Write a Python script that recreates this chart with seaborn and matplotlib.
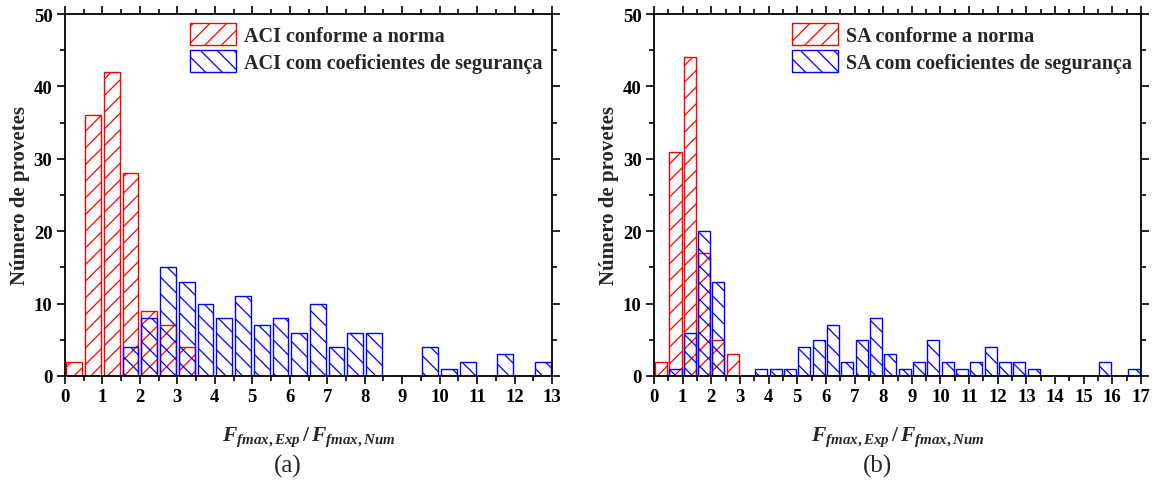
import numpy as np
import pandas as pd
import matplotlib
matplotlib.use("Agg")
import matplotlib.pyplot as plt
from matplotlib.patches import Patch
import seaborn as sns
from matplotlib.ticker import MultipleLocator

# ---------------- data (bin width 0.5, bins start at 0) ----------------
bin_width = 0.5
# panel (a) ACI
aci_norma_bins = [0.0, 0.5, 1.0, 1.5, 2.0, 2.5, 3.0]
aci_norma_counts = [2, 36, 42, 28, 9, 7, 4]
aci_coef_bins = [1.5, 2.0, 2.5, 3.0, 3.5, 4.0, 4.5, 5.0, 5.5, 6.0, 6.5, 7.0, 7.5, 8.0,
                 9.5, 10.0, 10.5, 11.5, 12.5]
aci_coef_counts = [4, 8, 15, 13, 10, 8, 11, 7, 8, 6, 10, 4, 6, 6,
                   4, 1, 2, 3, 2]
# panel (b) SA
sa_norma_bins = [0.0, 0.5, 1.0, 1.5, 2.0, 2.5]
sa_norma_counts = [2, 31, 44, 17, 5, 3]
sa_coef_bins = [0.5, 1.0, 1.5, 2.0, 3.5, 4.0, 4.5, 5.0, 5.5, 6.0, 6.5, 7.0, 7.5, 8.0,
                8.5, 9.0, 9.5, 10.0, 10.5, 11.0, 11.5, 12.0, 12.5, 13.0, 15.5, 16.5]
sa_coef_counts = [1, 6, 20, 13, 1, 1, 1, 4, 5, 7, 2, 5, 8, 3,
                  1, 2, 5, 2, 1, 2, 4, 2, 2, 1, 2, 1]

labels_a = ["ACI conforme a norma", "ACI com coeficientes de segurança"]
labels_b = ["SA conforme a norma", "SA com coeficientes de segurança"]
xmax_a, xmax_b = 13, 17
ylabel = "Número de provetes"
xlabel = r"$F_{fmax,Exp}\,/\,F_{fmax,Num}$"

HATCH_RED = "//"
HATCH_BLUE = "\\\\"

# ---------------- style ----------------
sns.set_theme(style="ticks")
plt.rcParams["font.family"] = ["Liberation Serif", "DejaVu Serif"]
plt.rcParams["mathtext.fontset"] = "custom"
plt.rcParams["mathtext.it"] = "Liberation Serif:italic:bold"
plt.rcParams["mathtext.rm"] = "Liberation Serif:bold"
plt.rcParams["mathtext.bf"] = "Liberation Serif:bold"
plt.rcParams["hatch.linewidth"] = 0.9

fig = plt.figure(figsize=(11.53, 4.81), dpi=100)
W, H = 1153, 481
axA = fig.add_axes([65 / W, 1 - 377 / H, (552 - 65) / W, (377 - 15) / H])
axB = fig.add_axes([654 / W, 1 - 377 / H, (1141 - 654) / W, (377 - 15) / H])


def draw(ax, nb, nc, cb, cc, labels, xmax, tag, tagx):
    df1 = pd.DataFrame({"x": np.array(nb) + bin_width / 2, "w": nc})
    df2 = pd.DataFrame({"x": np.array(cb) + bin_width / 2, "w": cc})
    sns.histplot(data=df1, x="x", weights="w", binwidth=bin_width, binrange=(0, xmax),
                 shrink=0.84, ax=ax, color="red")
    n1 = len(ax.patches)
    sns.histplot(data=df2, x="x", weights="w", binwidth=bin_width, binrange=(0, xmax),
                 shrink=0.84, ax=ax, color="blue")
    for i, p in enumerate(ax.patches):
        col = "red" if i < n1 else "blue"
        p.set_alpha(None)
        p.set_facecolor("none")
        p.set_edgecolor(col)
        p.set_linewidth(1.0)
        p.set_hatch(HATCH_RED if i < n1 else HATCH_BLUE)
        if p.get_height() == 0:
            p.set_visible(False)
    ax.set_xlim(0, xmax)
    ax.set_ylim(0, 50)
    ax.xaxis.set_major_locator(MultipleLocator(1))
    ax.xaxis.set_minor_locator(MultipleLocator(0.5))
    ax.yaxis.set_major_locator(MultipleLocator(10))
    ax.yaxis.set_minor_locator(MultipleLocator(5))
    ax.tick_params(which="both", direction="out", top=True, right=True,
                   labeltop=False, labelright=False, width=1.2, colors="black")
    ax.tick_params(which="major", length=6, pad=3)
    ax.tick_params(which="minor", length=3.5)
    for s in ax.spines.values():
        s.set_visible(True)
        s.set_linewidth(1.3)
        s.set_color("black")
    for t in ax.get_xticklabels() + ax.get_yticklabels():
        t.set_fontweight("bold")
        t.set_fontsize(13.5)
    ax.set_ylabel(ylabel, fontsize=15, fontweight="bold", labelpad=3)
    ax.set_xlabel(xlabel, fontsize=15.5, labelpad=14)
    handles = [Patch(facecolor="none", edgecolor="red", hatch=HATCH_RED, linewidth=1.0),
               Patch(facecolor="none", edgecolor="blue", hatch=HATCH_BLUE, linewidth=1.0)]
    ax.legend(handles, labels, loc="upper right", frameon=False,
              prop={"weight": "bold", "size": 14.5},
              handlelength=2.3, handleheight=1.3, handletextpad=0.4,
              labelspacing=0.22, borderaxespad=0.05)
    fig.text(tagx / W, 1 - 466 / H, tag, ha="center", va="center", fontsize=18)


draw(axA, aci_norma_bins, aci_norma_counts, aci_coef_bins, aci_coef_counts,
     labels_a, xmax_a, "(a)", 288)
draw(axB, sa_norma_bins, sa_norma_counts, sa_coef_bins, sa_coef_counts,
     labels_b, xmax_b, "(b)", 877)

fig.savefig("out.png", dpi=100)
